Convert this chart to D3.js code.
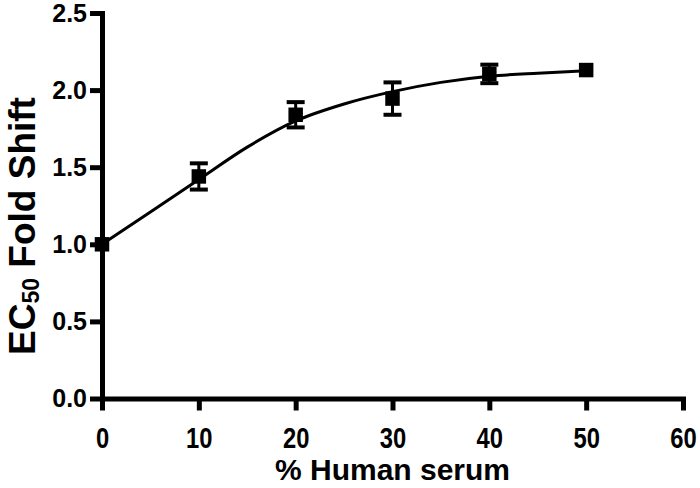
<!DOCTYPE html>
<html>
<head>
<meta charset="utf-8">
<script src="https://cdn.jsdelivr.net/npm/d3@7"></script>
<style>
  body { margin: 0; background: #fff; }
  svg text { font-family: "Liberation Sans", Arial, Helvetica, sans-serif; font-weight: bold; fill: #000; }
</style>
</head>
<body>
<svg id="chart" width="700" height="488"></svg>
<script>
// measured points (% human serum vs EC50 fold shift), mean +/- error
const serum = [0, 10, 20, 30, 40, 50];
const foldShift = [1.00, 1.44, 1.84, 1.945, 2.105, 2.13];
const errBar = [0, 0.085, 0.082, 0.105, 0.06, 0];

// fitted curve
const fitX = [0, 5, 10, 15, 20, 25, 30, 35, 40, 45, 50];
const fitY = [1.00, 1.21, 1.42, 1.63, 1.80, 1.91, 1.99, 2.05, 2.09, 2.11, 2.125];

const xTicks = [0, 10, 20, 30, 40, 50, 60];
const yTicks = [0, 0.5, 1.0, 1.5, 2.0, 2.5];

const svg = d3.select("#chart");

const x = d3.scaleLinear().domain([0, 60]).range([102, 683]);
const y = d3.scaleLinear().domain([0, 2.5]).range([398.5, 13]);

// axes
const xAxis = svg.append("g")
  .attr("transform", "translate(0," + y(0) + ")")
  .call(d3.axisBottom(x).tickValues(xTicks).tickSize(12).tickSizeOuter(0).tickPadding(17));
xAxis.selectAll("text")
  .style("font-size", "29px")
  .attr("transform", "scale(0.82,1)");

const yAxis = svg.append("g")
  .attr("transform", "translate(" + x(0) + ",0)")
  .call(d3.axisLeft(y).tickValues(yTicks).tickSize(12).tickSizeOuter(0).tickPadding(3).tickFormat(d3.format(".1f")));
yAxis.selectAll("text").style("font-size", "25px");

svg.selectAll(".domain")
  .style("stroke", "#000")
  .style("stroke-width", "5px")
  .style("stroke-linecap", "square");
svg.selectAll(".tick line")
  .style("stroke", "#000")
  .style("stroke-width", "5px");

// titles
svg.append("text")
  .attr("x", x(30))
  .attr("y", 480)
  .attr("text-anchor", "middle")
  .style("font-size", "30px")
  .text("% Human serum");

const yt = svg.append("text")
  .attr("transform", "translate(35,226) rotate(-90)")
  .attr("text-anchor", "middle")
  .style("font-size", "37px");
yt.append("tspan").text("EC");
yt.append("tspan").attr("dy", 4).style("font-size", "23px").text("50");
yt.append("tspan").attr("dy", -4).text(" Fold Shift");

// fitted curve
const line = d3.line()
  .x((d, i) => x(fitX[i]))
  .y(d => y(d))
  .curve(d3.curveMonotoneX);

svg.append("path")
  .datum(fitY)
  .attr("d", line)
  .attr("fill", "none")
  .attr("stroke", "#000")
  .attr("stroke-width", 3);

// error bars
const pts = serum.map((s, i) => ({ s: s, v: foldShift[i], e: errBar[i] }));
const eb = svg.append("g").selectAll("g")
  .data(pts.filter(d => d.e > 0))
  .join("g");
eb.append("line")
  .attr("x1", d => x(d.s)).attr("x2", d => x(d.s))
  .attr("y1", d => y(d.v - d.e)).attr("y2", d => y(d.v + d.e))
  .attr("stroke", "#000").attr("stroke-width", 3);
[-1, 1].forEach(sgn => {
  eb.append("line")
    .attr("x1", d => x(d.s) - 9).attr("x2", d => x(d.s) + 9)
    .attr("y1", d => y(d.v + sgn * d.e)).attr("y2", d => y(d.v + sgn * d.e))
    .attr("stroke", "#000").attr("stroke-width", 4);
});

// square markers
svg.append("g").selectAll("path")
  .data(pts)
  .join("path")
  .attr("transform", d => "translate(" + x(d.s) + "," + y(d.v) + ")")
  .attr("d", d3.symbol().type(d3.symbolSquare).size(210))
  .attr("fill", "#000");
</script>
</body>
</html>
